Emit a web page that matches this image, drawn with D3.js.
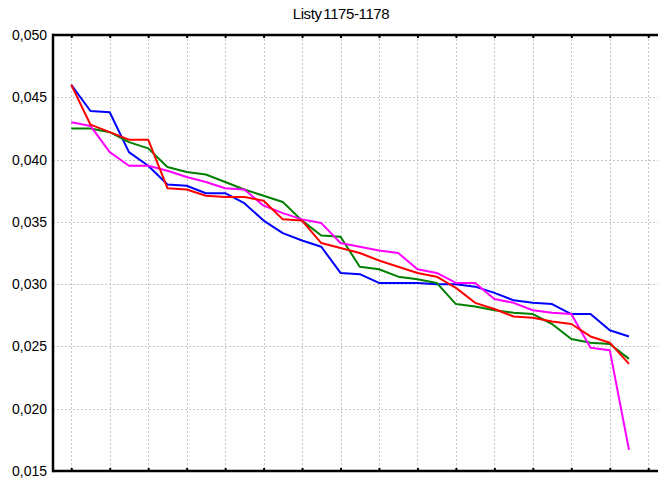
<!DOCTYPE html>
<html>
<head>
<meta charset="utf-8">
<script src="https://cdn.jsdelivr.net/npm/d3@7"></script>
<style>
  html, body { margin: 0; padding: 0; background: #fff; }
  svg { display: block; }
</style>
</head>
<body>
<svg id="chart" width="658" height="481"></svg>
<script>
const title = "Listy 1175-1178";
const yTicks = [0.015, 0.020, 0.025, 0.030, 0.035, 0.040, 0.045, 0.050];
const xTicks = [0, 2, 4, 6, 8, 10, 12, 14, 16, 18, 20, 22, 24, 26, 28, 30];

const blue = [0.0460, 0.0439, 0.0438, 0.0406, 0.0395, 0.0380, 0.0379, 0.0373, 0.0373, 0.0365,
              0.0351, 0.0341, 0.0335, 0.0330, 0.0309, 0.0308, 0.0301, 0.0301, 0.0301, 0.0300,
              0.0300, 0.0298, 0.0293, 0.0287, 0.0285, 0.0284, 0.0276, 0.0276, 0.0263, 0.0258];
const red = [0.0460, 0.0428, 0.0422, 0.0416, 0.0416, 0.0377, 0.0376, 0.0371, 0.0370, 0.0370,
             0.0367, 0.0352, 0.0351, 0.0333, 0.0329, 0.0325, 0.0319, 0.0314, 0.0309, 0.0306,
             0.0297, 0.0285, 0.0280, 0.0274, 0.0273, 0.0270, 0.0268, 0.0258, 0.0253, 0.0236];
const green = [0.0425, 0.0425, 0.0422, 0.0414, 0.0409, 0.0394, 0.0390, 0.0388, 0.0382, 0.0376,
               0.0371, 0.0366, 0.0351, 0.0339, 0.0338, 0.0314, 0.0312, 0.0306, 0.0304, 0.0301,
               0.0284, 0.0282, 0.0279, 0.0277, 0.0276, 0.0268, 0.0256, 0.0253, 0.0252, 0.0240];
const magenta = [0.0430, 0.0427, 0.0406, 0.0395, 0.0395, 0.0391, 0.0386, 0.0382, 0.0377, 0.0376,
                 0.0363, 0.0357, 0.0352, 0.0349, 0.0333, 0.0330, 0.0327, 0.0325, 0.0312, 0.0309,
                 0.0301, 0.0301, 0.0288, 0.0285, 0.0279, 0.0277, 0.0276, 0.0249, 0.0247, 0.0167];

const series = [
  { name: "blue", values: blue, color: "#0000ff" },
  { name: "green", values: green, color: "#008000" },
  { name: "magenta", values: magenta, color: "#ff00ff" },
  { name: "red", values: red, color: "#ff0000" }
];

const svg = d3.select("#chart");
const pL = 53, pT = 35, pB = 471, pR = 679;

const x = d3.scaleLinear().domain([-0.95, 31.6]).range([pL, pR]);
const y = d3.scaleLinear().domain([0.015, 0.050]).range([pB, pT]);

// grid
const grid = svg.append("g").attr("stroke", "#c4c4c4").attr("stroke-width", 1)
  .attr("stroke-dasharray", "2,2").attr("shape-rendering", "crispEdges");
grid.selectAll("line.v").data(xTicks).join("line").attr("class", "v")
  .attr("x1", d => Math.round(x(d)) + 0.5).attr("x2", d => Math.round(x(d)) + 0.5)
  .attr("y1", pT).attr("y2", pB);
grid.selectAll("line.h").data(yTicks.filter(d => d > 0.0151 && d < 0.0499)).join("line").attr("class", "h")
  .attr("x1", pL).attr("x2", pR)
  .attr("y1", d => Math.round(y(d)) + 0.5).attr("y2", d => Math.round(y(d)) + 0.5);

// lines
const line = d3.line().x((d, i) => x(i)).y(d => y(d));
svg.append("g").selectAll("path").data(series).join("path")
  .attr("d", d => line(d.values))
  .attr("fill", "none")
  .attr("stroke", d => d.color)
  .attr("stroke-width", 2)
  .attr("stroke-linejoin", "round");

// axes
const fmt = d => d3.format(".3f")(d).replace(".", ",");
const yAxis = d3.axisLeft(y).tickValues(yTicks).tickSize(0).tickPadding(6).tickFormat(fmt);
const gy = svg.append("g").attr("transform", `translate(${pL},0)`).call(yAxis);
gy.select(".domain").remove();
gy.selectAll("text").attr("font-family", "Liberation Sans, Arial, sans-serif")
  .attr("font-size", 14).attr("fill", "#000");

const xAxisB = d3.axisBottom(x).tickValues(xTicks).tickSize(-3).tickFormat("");
const gb = svg.append("g").attr("transform", `translate(0,${pB})`).call(xAxisB);
gb.select(".domain").remove();
gb.selectAll(".tick line").attr("stroke", "#000").attr("stroke-width", 2);

const xAxisT = d3.axisTop(x).tickValues(xTicks).tickSize(-3).tickFormat("");
const gt = svg.append("g").attr("transform", `translate(0,${pT})`).call(xAxisT);
gt.select(".domain").remove();
gt.selectAll(".tick line").attr("stroke", "#000").attr("stroke-width", 2);

const frame = svg.append("g").attr("stroke", "#000").attr("stroke-width", 2.5);
frame.append("line").attr("x1", pL).attr("x2", pR).attr("y1", pT).attr("y2", pT);
frame.append("line").attr("x1", pL).attr("x2", pR).attr("y1", pB).attr("y2", pB);
frame.append("line").attr("x1", pL).attr("x2", pL).attr("y1", pT - 1.25).attr("y2", pB + 1.25);

svg.append("text").attr("x", 341).attr("y", 19).attr("text-anchor", "middle")
  .attr("font-family", "Liberation Sans, Arial, sans-serif").attr("font-size", 15)
  .attr("letter-spacing", "-0.4").attr("word-spacing", "-2").attr("fill", "#000").text(title);
</script>
</body>
</html>
